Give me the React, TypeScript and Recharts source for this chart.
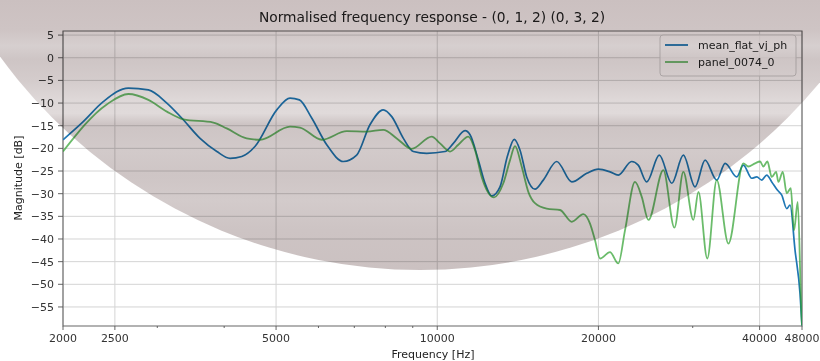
import React from "react";
import { LineChart, Line, XAxis, YAxis, CartesianGrid, ReferenceArea } from "recharts";

// mean_flat_vj_ph
const blueFreq = [
  2000, 2182, 2378, 2649, 2887, 3126, 3332, 3606, 3876, 4102, 4314, 4566, 5015, 5309, 5527, 5828,
  6217, 6678, 7071, 7487, 7928, 8223, 8644, 9022, 9556, 10340, 10716, 11269, 11515, 11934, 12282,
  12640, 13098, 13516, 13930, 14277, 14692, 15224, 15778, 16716, 17835, 19018, 20000, 21023, 21784,
  23070, 23733, 24619, 25986, 27420, 28817, 30304, 31640, 33265, 34486, 36261, 37300, 38667, 39518,
  40370, 41246, 42144, 43171, 44000, 44950, 45600, 46588, 47600, 48000,
];
const blueMag = [
  -18.1, -14.1, -9.7, -6.7, -7.1, -10.0, -13.3, -17.8, -20.7, -22.2, -21.8, -19.6, -11.5, -8.9, -9.3, -13.3,
  -19.2, -22.9, -21.5, -14.8, -11.5, -13.0, -17.8, -20.7, -21.1, -20.7, -18.9, -16.1, -17.0, -22.6, -27.7,
  -30.5, -28.5, -21.8, -18.0, -20.4, -26.3, -29.0, -27.0, -22.9, -27.4, -25.5, -24.6, -25.2, -25.9,
  -22.9, -23.7, -27.4, -21.5, -27.7, -21.5, -28.5, -22.6, -27.0, -23.3, -26.3, -23.7, -26.6, -26.3,
  -27.0, -25.9, -27.4, -29.2, -30.3, -33.3, -32.5, -42.5, -52.1, -59.1,
];

// panel_0074_0
const greenFreq = [
  2000, 2414, 2649, 2887, 3126, 3356, 3818, 4044, 4406, 4667, 5309, 5542, 6084, 6776, 7385, 7928,
  8402, 8960, 9766, 10120, 10565, 10948, 11429, 11766, 12106, 12765, 13285, 13676, 13972, 14378,
  14794, 15224, 16010, 16956, 17835, 18745, 19290, 19710, 20138, 21023, 21784, 22422, 23405, 24096,
  24796, 26440, 27730, 28817, 30084, 30747, 31940, 33265, 34980, 37300, 38100, 39225, 40086, 40640,
  41360, 42144, 42945, 43360, 44190, 44950, 45740, 46380, 47125, 47900, 48000,
];
const greenMag = [
  -20.7, -10.3, -8.0, -9.3, -11.9, -13.6, -14.3, -15.6, -17.8, -18.1, -15.2, -15.4, -18.1, -16.2, -16.3, -15.9,
  -17.8, -20.1, -17.4, -18.9, -20.7, -19.2, -17.4, -20.4, -26.3, -30.8, -27.7, -22.6, -19.5, -24.0,
  -29.6, -32.1, -33.3, -33.6, -36.2, -34.5, -36.6, -40.3, -44.3, -42.9, -45.4, -38.1, -27.4, -30.7,
  -35.8, -24.8, -37.5, -25.2, -35.8, -29.6, -44.3, -27.0, -41.0, -23.3, -24.0, -23.3, -22.9, -24.0,
  -22.9, -26.3, -25.2, -27.4, -25.2, -29.9, -28.8, -38.1, -31.8, -57.2, -59.1,
];

const seriesNames = ["mean_flat_vj_ph", "panel_0074_0"];
const majorTicks = [2000, 2500, 5000, 10000, 20000, 40000, 48000];
const minorTicks = [3000, 4000, 6000, 7000, 8000, 9000, 30000];
const yTicks = [5, 0, -5, -10, -15, -20, -25, -30, -35, -40, -45, -50, -55];
const yDomain = [-59.2, 5.9];

const blueData = blueFreq.map((f, i) => ({ f, v: blueMag[i] }));
const greenData = greenFreq.map((f, i) => ({ f, v: greenMag[i] }));

const FONT = "'DejaVu Sans', sans-serif";
const BLUE = "#1f77b4";
const GREEN = "#2ca02c";

const fmtY = (v: number) => (v < 0 ? `\u2212${Math.abs(v)}` : `${v}`);

const FreqTick = (props: any) => {
  const { x, y, payload } = props;
  const major = majorTicks.includes(payload.value);
  const top = y - 6;
  return (
    <g>
      <line x1={x} x2={x} y1={top} y2={top + (major ? 4 : 2)} stroke="#555" strokeWidth={0.9} />
      {major && (
        <text x={x} y={top + 15.5} textAnchor="middle" fontSize={11} fontFamily={FONT} fill="#333">
          {payload.value}
        </text>
      )}
    </g>
  );
};

export default function App() {
  return (
    <div style={{ position: "absolute", left: 0, top: 0, width: 820, height: 361, background: "#fff" }}>
      <LineChart width={820} height={361} data={blueData} margin={{ top: 31, right: 18, bottom: 0, left: 0 }}>
        <CartesianGrid stroke="#d4d4d4" strokeWidth={1} verticalValues={majorTicks} horizontalValues={yTicks} />
        <XAxis
          dataKey="f"
          type="number"
          scale="log"
          domain={[2000, 48000]}
          allowDataOverflow
          ticks={[...majorTicks, ...minorTicks].sort((a, b) => a - b)}
          interval={0}
          height={35}
          tickSize={4}
          tickMargin={2}
          tickLine={false}
          axisLine={false}
          tick={<FreqTick />}
        />
        <YAxis
          type="number"
          domain={yDomain}
          allowDataOverflow
          ticks={yTicks}
          interval={0}
          width={63}
          tickSize={5}
          tickMargin={4}
          tickFormatter={fmtY}
          axisLine={false}
          tickLine={{ stroke: "#555", strokeWidth: 0.9 }}
          tick={{ fill: "#333", fontSize: 11, fontFamily: FONT }}
        />
        <Line data={blueData} dataKey="v" name={seriesNames[0]} type="monotone" stroke={BLUE} strokeWidth={1.7} dot={false} isAnimationActive={false} />
        <Line data={greenData} dataKey="v" name={seriesNames[1]} type="monotone" stroke={GREEN} strokeOpacity={0.7} strokeWidth={1.8} dot={false} isAnimationActive={false} />
        <ReferenceArea x1={2000} x2={48000} y1={yDomain[0]} y2={yDomain[1]} fill="none" stroke="#666" strokeWidth={1.1} ifOverflow="visible" />
        <text x={432} y={22} textAnchor="middle" fontSize={13.8} fontFamily={FONT} fill="#222">
          Normalised frequency response - (0, 1, 2) (0, 3, 2)
        </text>
        <text x={433} y={358} textAnchor="middle" fontSize={11} fontFamily={FONT} fill="#222">
          Frequency [Hz]
        </text>
        <text x={22} y={178} transform="rotate(-90 22 178)" textAnchor="middle" fontSize={11} fontFamily={FONT} fill="#222">
          Magnitude [dB]
        </text>
        <g>
          <rect x={660} y={35} width={136} height={41} rx={3} fill="#fff" fillOpacity={0.8} stroke="#cfcfcf" />
          <line x1={665} x2={688} y1={45} y2={45} stroke={BLUE} strokeWidth={1.8} />
          <text x={698} y={49} fontSize={11} fontFamily={FONT} fill="#222">{seriesNames[0]}</text>
          <line x1={665} x2={688} y1={62} y2={62} stroke={GREEN} strokeOpacity={0.7} strokeWidth={1.8} />
          <text x={698} y={66} fontSize={11} fontFamily={FONT} fill="#222">{seriesNames[1]}</text>
        </g>
      </LineChart>
      <svg
        width={820}
        height={361}
        style={{ position: "absolute", left: 0, top: 0, mixBlendMode: "multiply", pointerEvents: "none" }}
      >
        <defs>
          <linearGradient id="shade" gradientUnits="userSpaceOnUse" x1="0" y1="0" x2="0" y2="270">
            <stop offset="0" stopColor="#cbc0c0" />
            <stop offset="0.11" stopColor="#cec4c4" />
            <stop offset="0.17" stopColor="#d6cfcf" />
            <stop offset="0.22" stopColor="#cec5c5" />
            <stop offset="0.3" stopColor="#d4cccc" />
            <stop offset="0.37" stopColor="#ded8d8" />
            <stop offset="0.42" stopColor="#e0dada" />
            <stop offset="0.46" stopColor="#cdc4c4" />
            <stop offset="0.56" stopColor="#d2caca" />
            <stop offset="0.65" stopColor="#cec5c5" />
            <stop offset="0.74" stopColor="#d3cbcb" />
            <stop offset="0.85" stopColor="#cdc4c4" />
            <stop offset="1" stopColor="#cbc1c1" />
          </linearGradient>
        </defs>
        <ellipse cx={420} cy={-250} rx={520} ry={520} fill="url(#shade)" />
      </svg>
    </div>
  );
}
